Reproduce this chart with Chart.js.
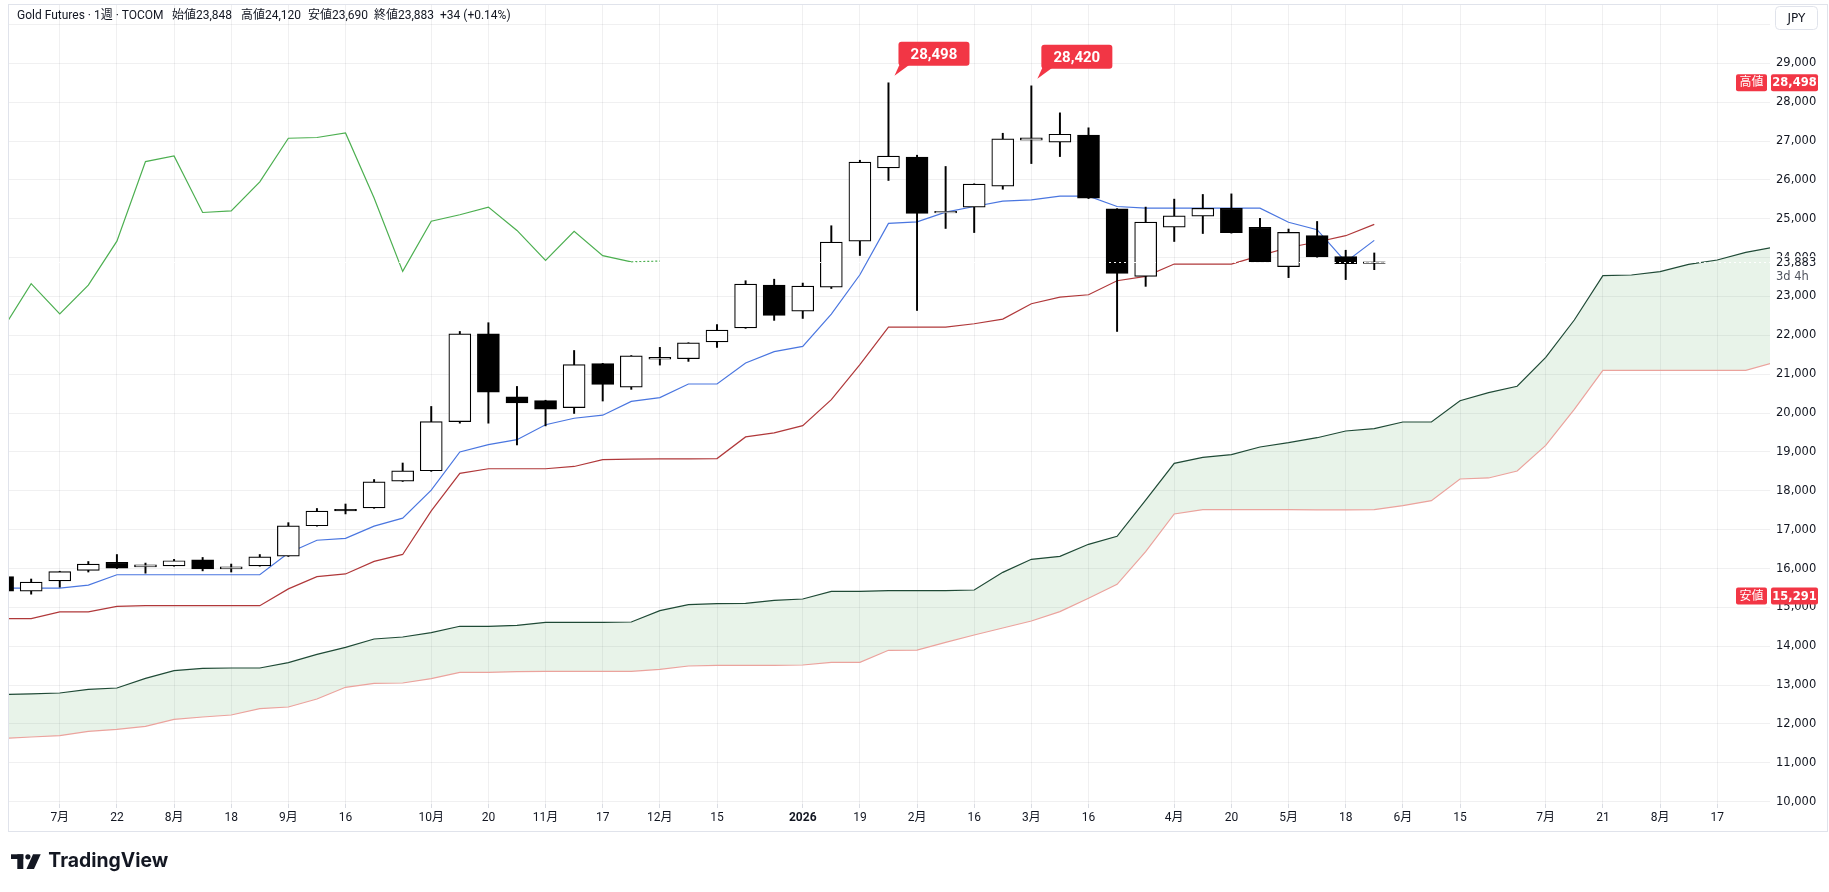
<!DOCTYPE html>
<html>
<head>
<meta charset="utf-8">
<script src="https://cdn.jsdelivr.net/npm/chart.js@4.4.1/dist/chart.umd.min.js"></script>
<style>
  html, body { margin: 0; padding: 0; background: #fff; }
  canvas { display: block; }
</style>
</head>
<body>
<canvas id="goldChart" width="1829" height="892"></canvas>
<script>
// weekly candles, index 0 = week of 2025-06-23
const opens  = [15790,15420,15680,15950,16160,16040,16070,16225,15990,16070,16320,17100,17520,17560,18250,18515,19780,22040,20415,20320,20140,21275,20665,21390,21400,21830,22190,23295,22625,23240,24425,26310,26590,25150,25300,25840,27020,26970,27155,25255,23515,24785,25065,25270,24780,23770,24565,24025,23848];
const highs  = [15800,15730,15930,16180,16360,16140,16235,16285,16115,16360,17180,17545,17660,18290,18715,20170,22100,22325,20685,20330,21610,21280,21480,21690,21810,22275,23405,23445,23345,24820,26505,28498,26635,26345,25900,27200,28420,27725,27340,25260,25300,25505,25625,25640,25010,24735,24930,24190,24120];
const lows   = [15291,15340,15520,15910,16000,15880,16060,15940,15910,16060,16310,17090,17405,17550,18240,18500,19740,19740,19180,19670,19990,20310,20610,21235,21330,21690,22180,22385,22435,23205,24055,25985,22640,24750,24645,25760,26420,26600,25520,22100,23260,24415,24620,24630,23885,23485,24010,23435,23690];
const closes = [15420,15650,15920,16115,16010,16095,16200,15990,16045,16300,17100,17480,17485,18230,18515,19780,22040,20535,20260,20100,21245,20740,21470,21400,21805,22135,23320,22515,23265,24400,26455,26610,25135,25170,25890,27055,27080,27175,25530,23595,24915,25075,25270,24645,23890,24650,24015,23845,23883];

// ichimoku lines
const tenkan = [15496,15496,15496,15575,15840,15840,15840,15840,15840,15840,16400,16727,16776,17091,17297,18016,19000,19187,19315,19699,19866,19945,20299,20398,20748,20748,21288,21580,21717,22548,23559,24879,24922,25170,25315,25452,25487,25581,25581,25315,25272,25272,25272,25272,25272,24910,24718,23889,24444];
const kijun  = [14709,14709,14886,14886,15024,15043,15043,15043,15043,15043,15476,15791,15860,16185,16362,17484,18449,18567,18567,18567,18626,18803,18815,18823,18823,18829,19386,19489,19677,20345,21245,22213,22213,22213,22299,22419,22813,22985,23045,23404,23516,23834,23834,23834,24050,24260,24402,24564,24855];
const chikou = [22150,23331,22553,23291,24423,26470,26618,25161,25201,25949,27071,27091,27209,25535,23646,24935,25102,25299,24699,23931,24679,24049,23892,23911];
const spanA  = [12760,12775,12797,12892,12926,13175,13371,13432,13440,13440,13577,13792,13973,14187,14238,14349,14515,14513,14539,14616,14616,14616,14624,14915,15069,15095,15104,15182,15216,15413,15413,15430,15430,15430,15447,15902,16237,16314,16623,16829,17763,18707,18862,18929,19127,19238,19366,19539,19598,19770,19770,20318,20524,20689,21435,22395,23535,23552,23638,23828,23938,24136,24270];
const spanB  = [11625,11665,11699,11811,11862,11940,12120,12180,12231,12394,12437,12643,12944,13046,13055,13165,13330,13330,13347,13355,13355,13355,13355,13407,13492,13509,13509,13509,13518,13587,13587,13896,13900,14100,14290,14470,14650,14890,15234,15594,16433,17403,17514,17514,17514,17514,17510,17510,17514,17617,17746,18304,18330,18510,19170,20097,21101,21101,21101,21101,21101,21101,21300];

const calloutIdx = [31, 36];

const xTickIdx  = [2,4,6,8,10,12,15,17,19,21,23,25,28,30,32,34,36,38,41,43,45,47,49,51,54,56,58,60];
const xTickText = ['7月','22','8月','18','9月','16','10月','20','11月','17','12月','15','2026','19','2月','16','3月','16','4月','20','5月','18','6月','15','7月','21','8月','17'];
const yTicks = [10000,11000,12000,13000,14000,15000,16000,17000,18000,19000,20000,21000,22000,23000,24000,25000,26000,27000,28000,29000,30000];

const TEXT = '#131722';
const GRID = 'rgba(42,46,57,0.07)';
const CJK = 'Roboto, "Noto Sans CJK JP", sans-serif';

const pts = arr => arr.map((v, i) => ({ x: i, y: v }));
const fmt = v => v.toLocaleString('en-US');

function rrect(ctx, x, y, w, h, r) {
  ctx.beginPath();
  ctx.moveTo(x + r, y);
  ctx.arcTo(x + w, y, x + w, y + h, r);
  ctx.arcTo(x + w, y + h, x, y + h, r);
  ctx.arcTo(x, y + h, x, y, r);
  ctx.arcTo(x, y, x + w, y, r);
  ctx.closePath();
}

const overlay = {
  id: 'overlay',
  afterDatasetsDraw(chart) {
    const { ctx, chartArea: a, scales: { y } } = chart;
    // dotted last price line
    const py = Math.round(y.getPixelForValue(closes[closes.length - 1])) + 0.5;
    ctx.save();
    ctx.beginPath();
    ctx.rect(a.left, a.top, a.right - a.left, a.bottom - a.top);
    ctx.clip();
    ctx.setLineDash([2, 3]);
    ctx.strokeStyle = 'rgba(255,255,255,0.95)';
    ctx.lineWidth = 1;
    ctx.beginPath();
    ctx.moveTo(a.left, py);
    ctx.lineTo(a.right, py);
    ctx.stroke();
    ctx.restore();
  },
  afterDraw(chart) {
    const { ctx, scales: { x, y } } = chart;
    ctx.save();

    // outer frame
    ctx.strokeStyle = '#e0e3eb';
    ctx.lineWidth = 1;
    ctx.strokeRect(8.5, 4.5, 1819, 827);

    // header
    ctx.fillStyle = TEXT;
    ctx.font = '12px ' + CJK;
    ctx.textBaseline = 'middle';
    ctx.textAlign = 'left';
    [['Gold Futures · 1週 · TOCOM', 17], ['始値23,848', 172], ['高値24,120', 241],
     ['安値23,690', 308], ['終値23,883', 374], ['+34 (+0.14%)', 440]]
      .forEach(([t, px]) => ctx.fillText(t, px, 15.5));

    // JPY button
    ctx.strokeStyle = '#e0e3eb';
    rrect(ctx, 1775.5, 6.5, 42, 23, 4);
    ctx.stroke();
    ctx.fillStyle = TEXT;
    ctx.font = '12px "DejaVu Sans"';
    ctx.textAlign = 'center';
    ctx.fillText('JPY', 1796.5, 18.5);

    // high callouts
    calloutIdx.forEach(i => {
      const px = x.getPixelForValue(i), py = y.getPixelForValue(highs[i]);
      const bx = px + 10, by = py - 41, bw = 71, bh = 24;
      ctx.fillStyle = '#f23645';
      rrect(ctx, bx, by, bw, bh, 3);
      ctx.fill();
      ctx.beginPath();
      ctx.moveTo(px + 6, py - 7);
      ctx.lineTo(bx + 1, by + bh - 1);
      ctx.lineTo(bx + 11, by + bh - 1);
      ctx.closePath();
      ctx.fill();
      ctx.fillStyle = '#fff';
      ctx.font = 'bold 15px Roboto';
      ctx.textAlign = 'center';
      ctx.fillText(fmt(highs[i]), bx + bw / 2, by + bh / 2 + 1);
    });

    // last price label on the axis
    const lp = y.getPixelForValue(closes[closes.length - 1]);
    ctx.fillStyle = '#fff';
    ctx.fillRect(1772, lp - 6, 55, 30);
    ctx.fillStyle = TEXT;
    ctx.font = '11.5px "DejaVu Sans"';
    ctx.textAlign = 'left';
    ctx.fillText(fmt(closes[closes.length - 1]), 1776, lp + 0.5);
    ctx.fillStyle = '#50535e';
    ctx.fillText('3d 4h', 1776, lp + 15);

    // visible range high / low tags
    const tag = (label, v) => {
      const py = y.getPixelForValue(v);
      ctx.fillStyle = '#f23645';
      rrect(ctx, 1736, py - 8.5, 31, 17, 2); ctx.fill();
      rrect(ctx, 1771, py - 8.5, 47, 17, 2); ctx.fill();
      ctx.fillStyle = '#fff';
      ctx.textAlign = 'center';
      ctx.font = '12px ' + CJK;
      ctx.fillText(label, 1751.5, py + 0.5);
      ctx.font = 'bold 11.5px "DejaVu Sans"';
      ctx.fillText(fmt(v), 1794.5, py + 0.5);
    };
    tag('高値', Math.max(...highs));
    tag('安値', Math.min(...lows));

    // TradingView logo
    ctx.fillStyle = '#131722';
    ctx.fillRect(11, 854.3, 12.3, 4.7);
    ctx.fillRect(17.3, 854.3, 6, 14.7);
    ctx.beginPath();
    ctx.arc(27.9, 856.8, 2.6, 0, Math.PI * 2);
    ctx.fill();
    ctx.beginPath();
    ctx.moveTo(33, 854.3); ctx.lineTo(40.7, 854.3);
    ctx.lineTo(34, 869); ctx.lineTo(26.5, 869);
    ctx.closePath();
    ctx.fill();
    ctx.font = 'bold 20px Inter';
    ctx.textAlign = 'left';
    ctx.textBaseline = 'alphabetic';
    const w = ctx.measureText('TradingView').width;
    ctx.save();
    ctx.translate(48.3, 867);
    ctx.scale(120 / w, 1);
    ctx.fillText('TradingView', 0, 0);
    ctx.restore();

    ctx.restore();
  }
};

const line = (data, color, order, extra) => Object.assign({
  type: 'line', data: pts(data), borderColor: color, borderWidth: 1.2,
  pointRadius: 0, pointHoverRadius: 0, tension: 0, fill: false, order, clip: 0
}, extra || {});

new Chart(document.getElementById('goldChart'), {
  type: 'bar',
  data: {
    datasets: [
      line(spanA, '#1f4a36', 10, {
        fill: { target: '+1', above: 'rgba(67,160,71,0.12)', below: 'rgba(242,54,69,0.12)' }
      }),
      line(spanB, '#eba39d', 9),
      line(chikou, '#4caf50', 8, {
        segment: { borderDash: c => c.p1DataIndex === chikou.length - 1 ? [2, 2] : undefined }
      }),
      line(kijun, '#b0383a', 7),
      line(tenkan, '#4a76e0', 6),
      {
        type: 'bar',
        data: lows.map((l, i) => ({ x: i, y: [l, highs[i]] })),
        backgroundColor: '#000', barThickness: 1.3, grouped: false, order: 2, clip: 0
      },
      {
        type: 'bar',
        data: opens.map((o, i) => ({ x: i, y: [o, closes[i]] })),
        backgroundColor: opens.map((o, i) => closes[i] >= o ? '#fff' : '#000'),
        borderColor: '#000', borderWidth: 1.2, borderSkipped: false, minBarLength: 1.6,
        barThickness: 22, grouped: false, order: 1, clip: 0
      }
    ]
  },
  options: {
    responsive: false,
    animation: false,
    devicePixelRatio: 1,
    layout: { padding: { left: 9, top: 5, right: 0, bottom: 61 } },
    plugins: { legend: { display: false }, tooltip: { enabled: false } },
    events: [],
    scales: {
      x: {
        type: 'linear', min: 0.224, max: 61.848, offset: false,
        grid: { offset: false, color: GRID, tickLength: 4, tickColor: '#d9dce3' },
        border: { display: false },
        afterBuildTicks: s => { s.ticks = xTickIdx.map(v => ({ value: v })); },
        afterFit: s => { s.height = 27; s.paddingLeft = 0; s.paddingRight = 0; },
        ticks: {
          autoSkip: false, maxRotation: 0, padding: 3, color: TEXT,
          font: c => ({ family: CJK, size: 12, weight: xTickText[c.index] === '2026' ? 'bold' : 'normal' }),
          callback: (v, i) => xTickText[i]
        }
      },
      y: {
        type: 'linear', position: 'right', min: 9941, max: 30500, beginAtZero: false,
        grid: { color: GRID, drawTicks: false },
        border: { display: false },
        afterBuildTicks: s => { s.ticks = yTicks.map(v => ({ value: v })); },
        afterFit: s => { s.width = 59; s.paddingTop = 0; s.paddingBottom = 0; },
        ticks: {
          padding: 6, color: TEXT,
          font: { family: 'DejaVu Sans', size: 11.5 },
          callback: v => v >= 30000 ? '' : fmt(v)
        }
      }
    }
  },
  plugins: [overlay]
});
</script>
</body>
</html>
